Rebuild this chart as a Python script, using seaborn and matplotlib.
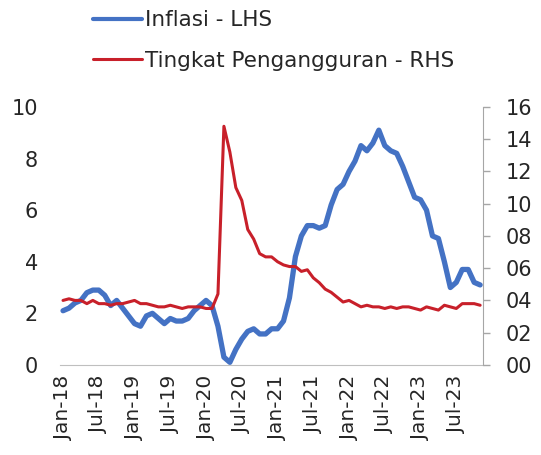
import numpy as np
import pandas as pd
import matplotlib
matplotlib.use("Agg")
import matplotlib.pyplot as plt
from matplotlib.lines import Line2D
import seaborn as sns

# monthly values, Jan-18 .. Nov-23
inflasi = [
    2.1, 2.2, 2.4, 2.5, 2.8, 2.9, 2.9, 2.7, 2.3, 2.5, 2.2, 1.9,
    1.6, 1.5, 1.9, 2.0, 1.8, 1.6, 1.8, 1.7, 1.7, 1.8, 2.1, 2.3,
    2.5, 2.3, 1.5, 0.3, 0.1, 0.6, 1.0, 1.3, 1.4, 1.2, 1.2, 1.4,
    1.4, 1.7, 2.6, 4.2, 5.0, 5.4, 5.4, 5.3, 5.4, 6.2, 6.8, 7.0,
    7.5, 7.9, 8.5, 8.3, 8.6, 9.1, 8.5, 8.3, 8.2, 7.7, 7.1, 6.5,
    6.4, 6.0, 5.0, 4.9, 4.0, 3.0, 3.2, 3.7, 3.7, 3.2, 3.1,
]
pengangguran = [
    4.0, 4.1, 4.0, 4.0, 3.8, 4.0, 3.8, 3.8, 3.7, 3.8, 3.8, 3.9,
    4.0, 3.8, 3.8, 3.7, 3.6, 3.6, 3.7, 3.6, 3.5, 3.6, 3.6, 3.6,
    3.5, 3.5, 4.4, 14.8, 13.2, 11.0, 10.2, 8.4, 7.8, 6.9, 6.7, 6.7,
    6.4, 6.2, 6.1, 6.1, 5.8, 5.9, 5.4, 5.1, 4.7, 4.5, 4.2, 3.9,
    4.0, 3.8, 3.6, 3.7, 3.6, 3.6, 3.5, 3.6, 3.5, 3.6, 3.6, 3.5,
    3.4, 3.6, 3.5, 3.4, 3.7, 3.6, 3.5, 3.8, 3.8, 3.8, 3.7,
]
tick_labels = ["Jan-18", "Jul-18", "Jan-19", "Jul-19", "Jan-20", "Jul-20",
               "Jan-21", "Jul-21", "Jan-22", "Jul-22", "Jan-23", "Jul-23"]
left_ticks = [0, 2, 4, 6, 8, 10]
right_ticks = [0, 2, 4, 6, 8, 10, 12, 14, 16]

BLUE = "#4472C4"
RED = "#C8202A"
GRID = "#BFBFBF"

df = pd.DataFrame({"month": np.arange(len(inflasi)),
                   "inflasi": inflasi,
                   "pengangguran": pengangguran})

sns.set_style("white")
plt.rcParams["font.family"] = ["DejaVu Sans"]

fig = plt.figure(figsize=(5.41, 4.55), dpi=100)
ax = fig.add_axes([0.111, 0.198, 0.782, 0.567])
ax2 = ax.twinx()

sns.lineplot(data=df, x="month", y="inflasi", ax=ax, color=BLUE, linewidth=3.8,
             legend=False)
sns.lineplot(data=df, x="month", y="pengangguran", ax=ax2, color=RED, linewidth=2.2,
             legend=False)

n = len(inflasi)
ax.set_xlim(-0.5, n - 0.5)
ax.set_ylim(0, 10)
ax2.set_ylim(0, 16)

# labels sit on the month, tick marks on the boundaries between months
ax.set_xticks(np.arange(0, n, 6), tick_labels, rotation=90, fontsize=14.5)
ax.set_xticks(np.arange(-0.5, n - 1, 6), minor=True)
ax.tick_params(axis="x", which="major", length=0, pad=8)
ax.tick_params(axis="x", which="minor", length=5, color=GRID, width=1)
ax.set_yticks(left_ticks, [str(t) for t in left_ticks], fontsize=15)
ax.tick_params(axis="y", length=0, pad=16)
ax2.set_yticks(right_ticks, [f"{t:02d}" for t in right_ticks], fontsize=15)
ax2.tick_params(axis="y", length=5, color="#A6A6A6", width=1, pad=11)

ax.set_xlabel("")
ax.set_ylabel("")
ax2.set_ylabel("")
for a in (ax, ax2):
    for side in ("top", "left"):
        a.spines[side].set_visible(False)
ax.spines["right"].set_visible(False)
ax2.spines["bottom"].set_visible(False)
ax.spines["bottom"].set_color(GRID)
ax2.spines["right"].set_color("#A6A6A6")

leg_handles = [Line2D([], [], color=BLUE, linewidth=3.0),
               Line2D([], [], color=RED, linewidth=2.2)]
fig.legend(leg_handles, ["Inflasi - LHS", "Tingkat Pengangguran - RHS"],
           loc="upper left", bbox_to_anchor=(0.136, 1.02), frameon=False,
           fontsize=15.5, handlelength=2.3, handletextpad=0.12, labelspacing=0.95)

fig.savefig("out.png", dpi=100)
